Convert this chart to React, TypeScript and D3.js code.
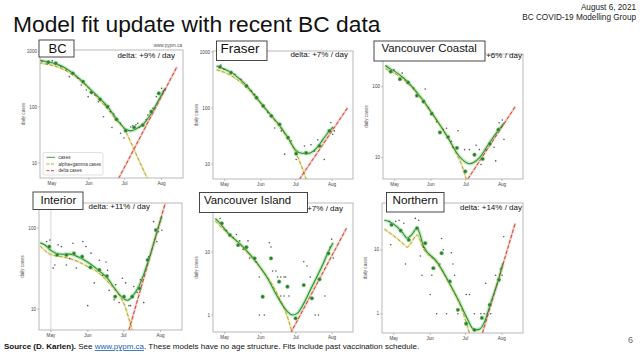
import React from 'react';
import * as d3 from 'd3';

type P = [number, number];

// ---------- DATA (day offsets from 1 May 2021, daily cases) ----------
const monthLabels = ['May', 'Jun', 'Jul', 'Aug'];
const monthOffsets = [0, 31, 61, 92];

const bcWeekly: P[] = [[-3, 630], [3.2, 603], [17.5, 399], [26.1, 283], [33.2, 183], [40.4, 137], [46.7, 101], [54.2, 60], [61.9, 37.8], [69, 43.4], [76.3, 47.6], [83.4, 82.6], [89.7, 175]];
const bcDaily: P[] = [[-8.3, 645], [-4, 586], [0.3, 671], [7.5, 525], [11.8, 458], [14.6, 348], [21.8, 325], [24.6, 247], [28.9, 201], [30.4, 153], [36.1, 164], [39, 124], [43.3, 67], [44.7, 109], [49, 83], [50.4, 43], [51.9, 75], [57.6, 51], [57.6, 34], [60.5, 28], [66.2, 44], [67.7, 46], [70.5, 48], [72, 51], [73.4, 43], [74.8, 46], [79.1, 59], [80.5, 72], [84.8, 95], [87.7, 153], [92, 215], [93.4, 188], [94.9, 201]];
const bcFit: P[] = [[-11, 690], [-5, 650], [0, 615], [5, 570], [10, 510], [17.5, 400], [26, 280], [33, 200], [40, 143], [47, 100], [55, 58], [62, 40], [66, 37.5], [70, 40], [74, 45], [78, 53], [83, 75], [88, 115], [92, 165], [95, 215]];
const bcAlphaGamma: P[] = [[-11, 610], [0, 555], [10, 465], [20, 345], [30, 225], [40, 132], [47, 92], [55, 55], [58, 49], [62, 36], [66, 24], [70, 15.5], [74, 10], [78, 6.6], [82, 4.4]];
const bcDelta: P[] = [[56, 5.3], [105, 525]];

const frWeekly: P[] = [[-4, 540], [5.4, 428], [18.7, 247], [27.3, 153], [33, 109], [40, 72], [47, 51], [54.3, 29.5], [61.3, 15.3], [69.8, 15.8], [81.2, 21], [89.7, 39]];
const frDaily: P[] = [[-3.3, 586], [-0.6, 490], [8.8, 400], [14, 325], [23, 201], [25.8, 175], [37, 83], [42.9, 44], [48.6, 39], [57, 26], [51.4, 15], [61.3, 12], [68.4, 21], [74, 22], [77, 17], [79.8, 27], [85.4, 12], [91, 55], [94, 39], [92.6, 34]];
const frFit: P[] = [[-7, 560], [0, 490], [6, 427], [12, 340], [18.7, 250], [27, 155], [33, 109], [40, 73], [46, 52], [54, 30], [61, 17.5], [66, 15.6], [72, 15.5], [78.5, 19], [84, 27], [88, 35], [93, 46]];
const frAlphaGamma: P[] = [[-7, 480], [0, 430], [10, 330], [20, 220], [30, 125], [40, 70], [50, 38], [58, 21], [64, 11.5], [70, 5.3]];
const frDelta: P[] = [[64, 5.3], [105.4, 101]];

const vcWeekly: P[] = [[-3.4, 164], [4.5, 128], [11.5, 115], [19.1, 75], [24.7, 62], [31.8, 41.7], [38.8, 22.7], [45.8, 19.5], [53.4, 13.7], [60.5, 6.4], [68.4, 11], [75.4, 9.6], [81.6, 15.7], [88.9, 24.8]];
const vcDaily: P[] = [[-0.6, 173], [6.5, 156], [16.3, 96], [26.2, 93], [29, 50], [36, 32], [41.6, 25], [44.4, 26], [54.3, 24], [48.6, 17], [50, 14], [59.9, 13], [69.8, 15], [64.1, 13], [72.6, 13], [78.1, 13], [74, 8], [85.2, 14], [89.5, 31], [92.3, 34], [93.7, 18], [86.6, 9]];
const vcFit: P[] = [[-8, 200], [-4.8, 183], [0, 165], [7.9, 132], [15, 100], [21.9, 73], [33.2, 40], [45.8, 19], [54.3, 11], [60, 8.8], [64, 8.2], [68, 8.6], [72.6, 9.9], [81, 16], [89.5, 25], [94, 31]];
const vcAlphaGamma: P[] = [[-8, 180], [0, 155], [8, 125], [22, 70], [33, 39], [46, 18.5], [54, 10.5], [58, 7.5], [61.3, 5]];
const vcDelta: P[] = [[62.7, 5], [103.5, 53]];

const inWeekly: P[] = [[-1.4, 58.9], [5.2, 46.5], [13, 46.5], [19.3, 48.6], [26.2, 44.3], [33.1, 32.7], [40.6, 30.3], [47, 25.5], [53.9, 14.2], [61.3, 14.2], [68.2, 14.2], [74.3, 18], [81.2, 40.3], [88.1, 94.4]];
const inDaily: P[] = [[-3.6, 68], [-0.8, 71], [1.9, 32], [3.3, 35], [6, 62], [8.8, 59], [13, 35], [15.7, 42], [18.5, 65], [21.3, 32], [26.8, 68], [29.5, 59], [30.9, 11], [33.7, 49], [36.4, 21], [40.6, 40], [43.4, 26], [46.2, 38], [47.5, 30], [48.9, 17], [53.1, 13], [54.4, 20], [57.2, 12], [60, 24], [62.7, 21], [65.5, 11], [66.8, 11], [69.6, 19], [72.4, 16], [75.1, 23], [77.9, 12], [82, 44], [86.2, 120], [90.3, 90], [88.9, 68], [93.1, 94]];
const inFit: P[] = [[-9, 66], [-5, 61.7], [0, 53], [4.7, 48.6], [10, 47.5], [15.7, 47.7], [25.4, 42.3], [37.9, 31.8], [47.5, 23.9], [54.4, 17.2], [60, 13.8], [64, 12.8], [68.2, 14.2], [73.7, 18.9], [78, 27], [82, 40.3], [86, 63], [90.3, 104], [93, 140]];
const inAlphaGamma: P[] = [[-9, 60], [0, 47], [10, 44], [20, 40], [30, 34], [40, 28], [50, 20], [57, 15], [62, 11], [65, 8], [68.2, 5.5]];
const inDelta: P[] = [[65.5, 5.5], [95.9, 202]];

const viWeekly: P[] = [[-2.5, 28.5], [4.5, 18.6], [11.5, 12.9], [18.6, 11.9], [25.6, 7.94], [32.6, 1.95], [39.7, 7.94], [46.7, 3.38], [53.8, 2.82], [60.8, 0.885], [67.8, 2.99], [74.8, 1.84], [81.3, 3.68], [88.9, 9.5]];
const viDaily: P[] = [[-3.9, 34], [1.7, 22], [7.3, 17], [10.1, 19], [12.9, 15], [15.8, 11], [20, 15], [21.4, 8], [27, 7], [29.8, 4], [38.3, 14], [39.7, 12], [41.1, 5], [43.9, 5], [45.3, 4], [48.1, 4], [50.9, 4], [52.3, 4], [55.1, 2], [48.1, 2], [50.9, 2], [29.8, 1], [34, 1], [67.8, 7], [70.6, 6], [73.4, 4], [77.6, 1], [80.4, 1], [86, 2], [90.3, 12], [91.7, 16], [93.1, 8]];
const viFit: P[] = [[-8, 34], [-5.3, 30.3], [3.1, 19.8], [14.3, 12.9], [25.6, 7.5], [36.9, 3.8], [45.3, 1.95], [53.8, 1.13], [58, 1.0], [62.2, 1.06], [67.8, 1.53], [73, 2.4], [79.1, 4.05], [84, 6.3], [88.9, 10.1], [93, 14]];
const viAlphaGamma: P[] = [[-8, 31], [0, 22], [10, 15], [20, 9.5], [30, 5.8], [40, 3.2], [46, 2.0], [52, 1.15], [55, 0.8], [58, 0.51]];
const viDelta: P[] = [[56.5, 0.513], [104.4, 23.8]];

const noWeekly: P[] = [[-1.9, 24.6], [5.9, 20], [12.8, 14.3], [19.8, 21.8], [26.8, 12.7], [33.7, 5.17], [40.7, 8.87], [47.7, 3.2], [54.6, 1.15], [61.6, 0.7], [68.6, 0.56], [75, 0.86], [81.7, 1.38], [89.5, 3.4]];
const noDaily: P[] = [[-3.9, 28], [-2.5, 12], [1.7, 28], [4.5, 29], [8.6, 26], [10, 6], [18.4, 31], [21.2, 29], [22.6, 8], [24, 4], [25.4, 11], [31, 2], [32.4, 4], [36.5, 1], [39.3, 6], [40.7, 15], [42.1, 10], [44.9, 1], [49, 9], [50.4, 6], [51.8, 4], [54.6, 1], [61.6, 2], [64.4, 2], [68.6, 1], [74.2, 1], [77, 1], [78.3, 3], [79.7, 1], [82.5, 1], [86.7, 4], [90.8, 5], [92.2, 4], [93.6, 16]];
const noFit: P[] = [[-8, 29], [-3.9, 27.7], [3.1, 22.6], [8, 18], [11.4, 15.2], [15, 17], [19.8, 21.8], [25.4, 11.3], [36.5, 6.6], [50.4, 2.37], [56, 1.5], [61.6, 0.91], [68.6, 0.56], [72.7, 0.57], [76.9, 0.72], [82.5, 1.47], [89.5, 3.6], [93, 6.2]];
const noAlphaGamma: P[] = [[-8, 21], [0, 16.5], [8, 12.5], [11.4, 11], [15, 13], [19.8, 17], [25.4, 10.3], [36.5, 6.3], [50.4, 2.3], [57, 1.3], [61, 0.8], [64.4, 0.5]];
const noDelta: P[] = [[75.5, 0.5], [103.4, 26.1]];

const regionNames = ['BC', 'Fraser', 'Vancouver Coastal', 'Interior', 'Vancouver Island', 'Northern'];
const deltaLabels = ['delta: +9% / day', 'delta: +7% / day', 'delta: +6% / day', 'delta: +11% / day', 'delta: +7% / day', 'delta: +14% / day'];
const yDomains: P[] = [[5.4, 1040], [5.4, 1040], [5, 290], [5.5, 204], [0.537, 60], [0.5, 54]];
const yTickValues = [[10, 100, 1000], [10, 100, 1000], [10, 100], [10, 100], [1, 10], [1, 10]];
const legendLabels = ['cases', 'alpha+gamma cases', 'delta cases'];

// ---------- LAYOUT ----------
const layouts = [
  { x0: 40, x1: 183, y0: 50, y1: 178, box: [39, 40, 35, 17], tx: 48.5, ty: 52.8, fs: 13, dx: 175, dy: 57.5 },
  { x0: 213, x1: 353, y0: 51, y1: 179, box: [216.5, 41, 50.5, 19.5], tx: 220.5, ty: 52.8, fs: 13.5, dx: 348, dy: 57 },
  { x0: 383, x1: 523, y0: 54, y1: 179, box: [374, 41, 111, 20], tx: 381.5, ty: 52, fs: 11.4, dx: 522, dy: 57.5 },
  { x0: 39, x1: 182, y0: 203, y1: 330, box: [33, 192, 50, 17.5], tx: 40.5, ty: 204, fs: 11.5, dx: 150, dy: 208.5 },
  { x0: 213, x1: 353, y0: 203, y1: 332, box: [199.5, 192.5, 108, 20], tx: 204, ty: 204.2, fs: 11.4, dx: 343, dy: 210.5 },
  { x0: 382, x1: 523, y0: 203, y1: 333, box: [386.5, 192.5, 57.5, 19.5], tx: 392.5, ty: 203.8, fs: 11.7, dx: 522, dy: 210 },
];

const series = [
  { weekly: bcWeekly, daily: bcDaily, fit: bcFit, ag: bcAlphaGamma, delta: bcDelta },
  { weekly: frWeekly, daily: frDaily, fit: frFit, ag: frAlphaGamma, delta: frDelta },
  { weekly: vcWeekly, daily: vcDaily, fit: vcFit, ag: vcAlphaGamma, delta: vcDelta },
  { weekly: inWeekly, daily: inDaily, fit: inFit, ag: inAlphaGamma, delta: inDelta },
  { weekly: viWeekly, daily: viDaily, fit: viFit, ag: viAlphaGamma, delta: viDelta },
  { weekly: noWeekly, daily: noDaily, fit: noFit, ag: noAlphaGamma, delta: noDelta },
];

const BASE = new Date(2021, 4, 1).getTime();
const toDate = (d: number) => new Date(BASE + d * 86400000);
const FONT = '"Liberation Sans", Arial, Helvetica, sans-serif';

const GREEN = '#2f8f2f';
const GREEN_HALO = '#a8e6a8';
const OLIVE = '#b09a22';
const RED = '#c8322a';

function Panel({ i }: { i: number }) {
  const L = layouts[i];
  const S = series[i];
  const x = d3.scaleTime().domain([toDate(-10), toDate(110)]).range([L.x0, L.x1]);
  const y = d3.scaleLog().domain(yDomains[i]).range([L.y1, L.y0]);
  const smooth = d3.line<P>().x(p => x(toDate(p[0]))).y(p => y(p[1])).curve(d3.curveMonotoneX);
  const straight = d3.line<P>().x(p => x(toDate(p[0]))).y(p => y(p[1]));
  const clipId = `clip-${i}`;
  const [bx, by, bw, bh] = L.box;
  const tickFs = 4.6;
  return (
    <g>
      <defs>
        <clipPath id={clipId}>
          <rect x={L.x0} y={L.y0} width={L.x1 - L.x0} height={L.y1 - L.y0} />
        </clipPath>
      </defs>
      <rect x={L.x0} y={L.y0} width={L.x1 - L.x0} height={L.y1 - L.y0} fill="#fff" />
      {i === 3 && (
        <line x1={x(toDate(0))} x2={x(toDate(0))} y1={L.y0} y2={L.y1} stroke="#d0d0d0" strokeWidth={0.9} />
      )}
      <g clipPath={`url(#${clipId})`}>
        <path d={smooth(S.fit) || ''} fill="none" stroke={GREEN_HALO} strokeWidth={3.6} strokeOpacity={0.7} />
        <path d={smooth(S.ag) || ''} fill="none" stroke="#e9e3a4" strokeWidth={2.2} strokeOpacity={0.8} />
        <path d={straight(S.delta) || ''} fill="none" stroke="#f1b8a8" strokeWidth={2.2} strokeOpacity={0.8} />
        <path d={smooth(S.ag) || ''} fill="none" stroke={OLIVE} strokeWidth={0.9} strokeDasharray="3.5,2" />
        <path d={straight(S.delta) || ''} fill="none" stroke={RED} strokeWidth={0.9} strokeDasharray="3.5,2" />
        <path d={smooth(S.fit) || ''} fill="none" stroke={GREEN} strokeWidth={1.1} />
        {S.daily.map((p, k) => (
          <circle key={`d${k}`} cx={x(toDate(p[0]))} cy={y(p[1])} r={0.8} fill="#555" />
        ))}
        {S.weekly.map((p, k) => (
          <circle key={`w${k}`} cx={x(toDate(p[0]))} cy={y(p[1])} r={1.9} fill="#2e7d2e" stroke="#8fd88f" strokeWidth={0.5} />
        ))}
      </g>
      <rect x={L.x0} y={L.y0} width={L.x1 - L.x0} height={L.y1 - L.y0} fill="none" stroke="#a8a8a8" strokeWidth={0.8} />
      {yTickValues[i].map(t => (
        <g key={`yt${t}`}>
          <line x1={L.x0 - 2} x2={L.x0} y1={y(t)} y2={y(t)} stroke="#888" strokeWidth={0.5} />
          <text x={L.x0 - 3} y={y(t)} dy="0.35em" textAnchor="end" fontSize={tickFs} fill="#444" fontFamily={FONT}>{String(t)}</text>
        </g>
      ))}
      {monthOffsets.map((m, k) => (
        <g key={`xt${k}`}>
          <line x1={x(toDate(m))} x2={x(toDate(m))} y1={L.y1} y2={L.y1 + 2} stroke="#888" strokeWidth={0.5} />
          <text x={x(toDate(m))} y={L.y1 + 7} textAnchor="middle" fontSize={tickFs} fill="#444" fontFamily={FONT}>{monthLabels[k]}</text>
        </g>
      ))}
      <text transform={`translate(${L.x0 - 15},${(L.y0 + L.y1) / 2}) rotate(-90)`} textAnchor="middle" fontSize={tickFs} fill="#555" fontFamily={FONT}>daily cases</text>
      <text x={L.dx} y={L.dy} textAnchor="end" fontSize={8} fill="#111" fontFamily={FONT}>{deltaLabels[i]}</text>
      {i === 0 && (
        <text x={L.x1 - 1} y={47} textAnchor="end" fontSize={4.6} fill="#555" fontFamily={FONT}>www.pypm.ca</text>
      )}
      {i === 0 && (
        <g>
          <rect x={43} y={152.5} width={60} height={22.5} rx={1.5} fill="#fff" stroke="#ccc" strokeWidth={0.6} />
          {legendLabels.map((lab, k) => {
            const ly = 157.3 + k * 6.7;
            const col = k === 0 ? GREEN : k === 1 ? OLIVE : RED;
            return (
              <g key={lab}>
                <line x1={46.5} x2={55} y1={ly} y2={ly} stroke={col} strokeWidth={0.9} strokeDasharray={k === 0 ? undefined : '3,1.5'} />
                <text x={58.5} y={ly} dy="0.35em" fontSize={4.6} fill="#333" fontFamily={FONT}>{lab}</text>
              </g>
            );
          })}
        </g>
      )}
      <rect x={bx} y={by} width={bw} height={bh} fill="#fff" stroke="#333" strokeWidth={0.9} />
      <text x={L.tx} y={L.ty} fontSize={L.fs} fill="#111" fontFamily={FONT}>{regionNames[i]}</text>
    </g>
  );
}

export default function App() {
  return (
    <svg width={640} height={357} viewBox="0 0 640 357" style={{ position: 'fixed', left: 0, top: 0, background: '#fff' }}>
      <rect x={0} y={0} width={640} height={357} fill="#fff" />
      <text x={13} y={31.5} fontSize={22.8} fill="#111" fontFamily={FONT}>Model fit update with recent BC data</text>
      <text x={636} y={10} textAnchor="end" fontSize={8.2} fill="#222" fontFamily={FONT}>August 6, 2021</text>
      <text x={636} y={20} textAnchor="end" fontSize={8.2} fill="#222" fontFamily={FONT}>BC COVID-19 Modelling Group</text>
      {layouts.map((_, i) => <Panel key={i} i={i} />)}
      <text x={4} y={349} fontSize={8} fill="#111" fontFamily={FONT}>
        <tspan fontWeight="bold">Source (D. Karlen).</tspan>
        <tspan>{' See '}</tspan>
        <tspan fill="#1a5fb4" style={{ textDecoration: 'underline' }}>www.pypm.ca</tspan>
        <tspan>{'. These models have no age structure. Fits include past vaccination schedule.'}</tspan>
      </text>
      <text x={628} y={343} fontSize={9} fill="#666" fontFamily={FONT}>6</text>
    </svg>
  );
}
